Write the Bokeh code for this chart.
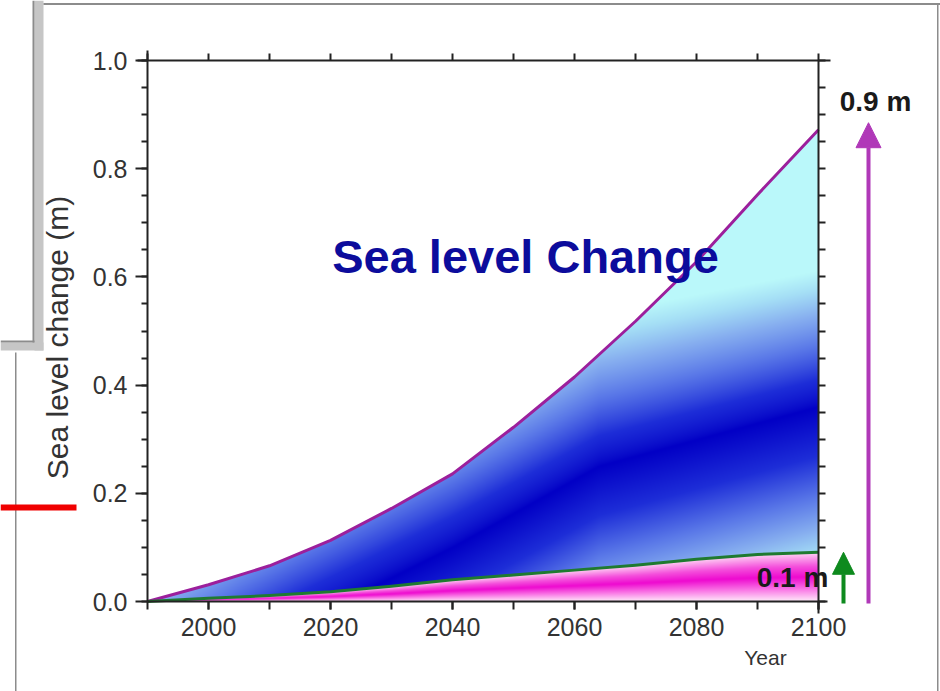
import numpy as np
from bokeh.plotting import figure
from bokeh.models import (Range1d, LinearAxis, FixedTicker, Label, Arrow, NormalHead,
                          BoxAnnotation, PrintfTickFormatter)
from bokeh.embed import file_html
from bokeh.resources import INLINE

# ---------------- data ----------------
years = [1990, 2000, 2010, 2020, 2030, 2040, 2050, 2060, 2070, 2080, 2090, 2100]
upper_rise = [0.0, 0.031, 0.066, 0.113, 0.172, 0.236, 0.322, 0.415, 0.518, 0.628, 0.752, 0.872]
lower_rise = [0.0, 0.006, 0.011, 0.018, 0.028, 0.040, 0.049, 0.058, 0.067, 0.078, 0.087, 0.091]
x_major_ticks = [2000, 2020, 2040, 2060, 2080, 2100]
x_minor_ticks = [1990, 2000, 2010, 2020, 2030, 2040, 2050, 2060, 2070, 2080, 2090, 2100]
y_major_ticks = [0.0, 0.2, 0.4, 0.6, 0.8, 1.0]
y_minor_ticks = [round(0.05 * i, 2) for i in range(21)]
title_text = "Sea level Change"
upper_label = "0.9 m"
lower_label = "0.1 m"
y_title = "Sea level change (m)"
x_title = "Year"

FONT = "Liberation Sans"

# ---------------- layout (page pixels) ----------------
W, H = 940, 691
PX0, PX1 = 147, 818      # pixel of x = 1990 / 2100
PY1, PY0 = 60, 601       # pixel of y = 1.0 / 0.0
X0, X1, Y0, Y1 = 1990, 2100, 0.0, 1.0
KX = (X1 - X0) / (PX1 - PX0)
KY = (Y1 - Y0) / (PY0 - PY1)


def xd(px):
    return X0 + (px - PX0) * KX


def yd(py):
    return Y0 + (PY0 - py) * KY


p = figure(width=W, height=H, min_border=0,
           x_range=Range1d(xd(0), xd(W)), y_range=Range1d(yd(H), yd(0)),
           x_axis_location=None, y_axis_location=None,
           output_backend="svg", toolbar_location=None)
p.grid.visible = False
p.outline_line_color = None
p.background_fill_color = "white"
p.border_fill_color = "white"


# ---------------- colour ramps (styling) ----------------
def ramp(stops, u):
    u = np.clip(u, 0.0, 1.0)
    us = [s[0] for s in stops]
    return [np.interp(u, us, [s[1][k] for s in stops]) for k in range(3)]


blue_stops = [(0.0, (2, 0, 198)), (0.3, (30, 46, 216)), (0.55, (90, 120, 232)),
              (0.75, (136, 176, 240)), (0.9, (166, 224, 246)), (1.0, (186, 248, 250))]
pink_stops = [(0.0, (255, 236, 250)), (0.25, (250, 120, 230)), (0.5, (238, 10, 208)),
              (0.72, (245, 80, 220)), (1.0, (255, 212, 245))]

# styling: course of the darkest streak of the blue shading
dark_x = [1990, 2005, 2015, 2040, 2064, 2100]
dark_y = [-0.2, -0.1, -0.04, 0.1, 0.25, 0.36]

# ---------------- gradient fills as an RGBA image between the curves ----------------
NX, NY = PX1 - PX0, PY0 - PY1
gx = X0 + (np.arange(NX) + 0.5) * (X1 - X0) / NX
gy = Y0 + (np.arange(NY) + 0.5) * (Y1 - Y0) / NY
GX, GY = np.meshgrid(gx, gy)
up_g = np.interp(GX, years, upper_rise)
lo_g = np.interp(GX, years, lower_rise)

s = (GX - X0) / (X1 - X0)
dy = GY - np.interp(GX, dark_x, dark_y)
reach = 0.28 - np.clip(s - 0.67, 0, None) / 0.33 * 0.03
u_above = np.power(np.clip(dy, 0, None) / reach, 0.75)
u = np.where(dy >= 0, u_above, -3.3 * dy)
br, bg, bb = ramp(blue_stops, u)
t = np.where(lo_g > 0, GY / np.where(lo_g > 0, lo_g, 1), 0)
pr, pg, pb = ramp(pink_stops, t)

in_blue = (GY >= lo_g) & (GY <= up_g)
in_pink = (GY < lo_g) & (GY >= 0)
img = np.zeros((NY, NX, 4), dtype=np.uint8)
img[..., 0] = np.where(in_blue, br, pr).astype(np.uint8)
img[..., 1] = np.where(in_blue, bg, pg).astype(np.uint8)
img[..., 2] = np.where(in_blue, bb, pb).astype(np.uint8)
img[..., 3] = np.where(in_blue | in_pink, 255, 0).astype(np.uint8)
p.image_rgba(image=[img.view(dtype=np.uint32).reshape(NY, NX)],
             x=X0, y=Y0, dw=X1 - X0, dh=Y1 - Y0)

# curves
p.line(years, upper_rise, line_color="#9c1f9c", line_width=3, line_join="round")
p.line(years, lower_rise, line_color="#1f7a30", line_width=3, line_join="round")

# ---------------- axes (fixed inside the page-sized frame) ----------------
AX = "#222222"
left = LinearAxis(fixed_location=X0, bounds=(Y0, yd(PY1 - 10)),
                  ticker=FixedTicker(ticks=y_major_ticks, minor_ticks=y_minor_ticks),
                  formatter=PrintfTickFormatter(format="%.1f"))
bottom = LinearAxis(fixed_location=Y0, bounds=(X0, xd(PX1 + 9)),
                    ticker=FixedTicker(ticks=x_major_ticks, minor_ticks=x_minor_ticks))
top = LinearAxis(fixed_location=Y1, bounds=(xd(PX0 - 10), xd(PX1 + 12)),
                 ticker=FixedTicker(ticks=x_minor_ticks, minor_ticks=[]),
                 major_label_overrides={t: "" for t in x_minor_ticks})
right = LinearAxis(fixed_location=X1, bounds=(yd(PY0 + 12), Y1),
                   ticker=FixedTicker(ticks=y_minor_ticks, minor_ticks=[]),
                   major_label_overrides={t: "" for t in y_minor_ticks})

for ax in (left, bottom, top, right):
    ax.axis_line_color = AX
    ax.axis_line_width = 2
    ax.major_tick_line_color = AX
    ax.minor_tick_line_color = AX
    ax.major_tick_line_width = 2
    ax.minor_tick_line_width = 2
    ax.major_tick_in = 0
    ax.minor_tick_in = 0
    ax.major_label_text_font = FONT
    ax.major_label_text_font_size = "25px"
    ax.major_label_text_color = "#333333"
left.major_tick_out = 12
left.minor_tick_out = 6
left.major_label_standoff = 8
bottom.major_tick_out = 8
bottom.minor_tick_out = 8
bottom.major_label_standoff = 8
for ax in (top, right):
    ax.major_tick_out = 7
    ax.minor_tick_line_color = None
    ax.major_label_text_font_size = "1px"

p.add_layout(left, "left")
p.add_layout(bottom, "below")
p.add_layout(top, "above")
p.add_layout(right, "right")

# ---------------- slide decorations ----------------
def box(l, r, t_, b, color):
    p.add_layout(BoxAnnotation(left=xd(l), right=xd(r), top=yd(t_), bottom=yd(b),
                               fill_color=color, fill_alpha=1, line_color=None, level="underlay"))


box(34, 43, 0, 350, "#c6c6c6")
box(0, 43, 342, 350, "#c6c6c6")
box(32, 34, 0, 342, "#8c8c8c")
box(0, 34, 340, 342, "#8c8c8c")
box(43, W, 2.5, 4.5, "#8c8c8c")
box(936.5, 938, 2.5, H, "#8c8c8c")
box(14.5, 16, 352, H, "#8c8c8c")
box(0, 76, 504, 510, "#f00000")


# ---------------- texts & arrows ----------------
def text(px, py_base, txt, size, color, bold=False, angle=0.0):
    # py_base: wanted baseline in page pixels; small correction for the text box model
    corr = 0.36 * size
    if angle == 0.0:
        x, y = xd(px), yd(py_base - corr)
    else:
        x, y = xd(px - corr), yd(py_base)
    p.add_layout(Label(x=x, y=y, text=txt, text_align="center", text_baseline="alphabetic",
                       angle=angle, text_font=FONT, text_font_size=f"{size}px",
                       text_font_style="bold" if bold else "normal", text_color=color))


text(525, 273, title_text, 47, "#0c0c9c", bold=True)
text(875, 111, upper_label, 28, "#1a1a1a", bold=True)
text(792, 587, lower_label, 28, "#1a1a1a", bold=True)
text(765, 665, x_title, 21, "#333333")
text(68, 337, y_title, 30, "#333333", angle=np.pi / 2)

purple = "#b038b8"
green = "#0e8a1e"
p.add_layout(Arrow(x_start=xd(868), y_start=yd(603), x_end=xd(868), y_end=upper_rise[-1] + 0.013,
                   line_color=purple, line_width=4,
                   end=NormalHead(size=25, fill_color=purple, line_color=purple)))
p.add_layout(Arrow(x_start=xd(843), y_start=yd(603), x_end=xd(843), y_end=lower_rise[-1],
                   line_color=green, line_width=4,
                   end=NormalHead(size=22, fill_color=green, line_color=green)))

open("out.html", "w").write(file_html(p, INLINE))
